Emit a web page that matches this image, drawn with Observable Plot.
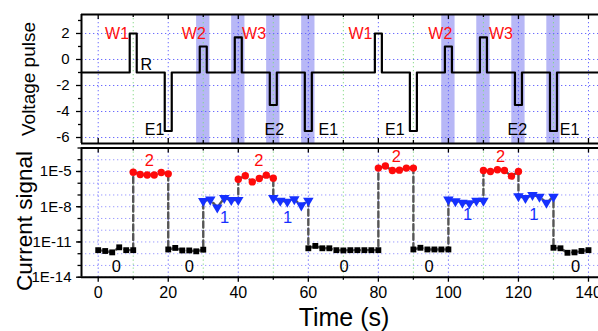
<!DOCTYPE html>
<html>
<head>
<meta charset="utf-8">
<script src="https://cdn.jsdelivr.net/npm/d3@7"></script>
<script src="https://cdn.jsdelivr.net/npm/@observablehq/plot@0.6"></script>
<style>
  html, body { margin: 0; padding: 0; background: #fff; }
  #wrap { position: relative; width: 598px; height: 331px; overflow: hidden; font-family: "Liberation Sans", Arial, sans-serif; }
  #wrap > svg, #wrap > div { position: absolute; left: 0; }
  svg { overflow: visible; }
</style>
</head>
<body>
<div id="wrap"></div>
<script>
// ---------- data ----------
const xDomain = [-4.77, 142.86];
const majorX = [0, 20, 40, 60, 80, 100, 120, 140];
const minorX = [10, 30, 50, 70, 90, 110, 130];

// voltage pulses (baseline -1 V)
const baseline = -1;
const pulseCenters = [10, 20, 30, 40, 50, 60, 80, 90, 100, 110, 120, 130];
const pulseLevels  = [2, -5.5, 1, 1.7, -3.5, -5.5, 2, -5.5, 1, 1.7, -3.5, -5.5];
const pulseHalfWidth = 1;
const bandCenters = [30, 40, 50, 60, 100, 110, 120, 130];
const bandHalfWidth = 1.9;
const vMajor = [-6, -4, -2, 0, 2];
const vMinor = [-5, -3, -1, 1, 3];

const topLabelText = ["W1", "R", "E1", "W2", "W3", "E2", "E1", "W1", "E1", "W2", "W3", "E2", "E1"];
const topLabelT    = [5.4, 13.7, 16.1, 27.3, 44.5, 50.3, 65.7, 74.9, 84.7, 97.7, 115, 119.7, 134.6];
const topLabelV    = [1.94, -0.4, -5.42, 1.98, 1.98, -5.4, -5.4, 1.98, -5.4, 1.98, 1.98, -5.4, -5.4];
const topLabelColor = ["#ff1010", "#000", "#000", "#ff1010", "#ff1010", "#000", "#000", "#ff1010", "#000", "#ff1010", "#ff1010", "#000", "#000"];

// current signal segments (2 s sampling)
const timeStep = 2;
const segStart = [0, 10, 20, 30, 40, 50, 60, 80, 90, 100, 110, 120, 130];
const segState = [0, 2, 0, 1, 2, 1, 0, 2, 0, 1, 2, 1, 0];
const segValues = [
  [2.0e-12, 1.7e-12, 1.3e-12, 3.5e-12, 2.0e-12, 2.0e-12],
  [8.7e-6, 5.5e-6, 5.1e-6, 5.1e-6, 8.1e-6, 6.3e-6],
  [2.3e-12, 3.1e-12, 1.9e-12, 1.9e-12, 1.6e-12, 2.2e-12],
  [3.1e-8, 4.0e-8, 8.7e-9, 5.5e-8, 3.7e-8, 3.7e-8],
  [2.2e-6, 4.3e-6, 1.3e-6, 2.5e-6, 4.9e-6, 2.7e-6],
  [5.5e-8, 3.2e-8, 2.7e-8, 4.3e-8, 1.3e-8, 3.2e-8],
  [2.9e-12, 4.6e-12, 2.9e-12, 2.9e-12, 2.0e-12, 1.9e-12, 2.0e-12, 2.0e-12, 2.0e-12, 2.0e-12, 2.0e-12],
  [1.95e-5, 2.9e-5, 1.2e-5, 1.3e-5, 1.95e-5, 1.95e-5],
  [2.3e-12, 3.2e-12, 2.3e-12, 2.3e-12, 2.3e-12, 2.3e-12],
  [4.0e-8, 2.9e-8, 2.2e-8, 2.0e-8, 3.2e-8, 3.2e-8],
  [1.2e-5, 1.0e-5, 1.4e-5, 1.2e-5, 4.0e-6, 1.0e-5],
  [7.8e-8, 5.5e-8, 1.0e-7, 7.2e-8, 2.2e-8, 7.2e-8],
  [3.2e-12, 2.9e-12, 1.2e-12, 1.3e-12, 1.7e-12, 2.0e-12]
];
const iMajor = [1e-14, 1e-11, 1e-8, 1e-5];
const iDecades = [1e-14, 1e-13, 1e-12, 1e-11, 1e-10, 1e-9, 1e-8, 1e-7, 1e-6, 1e-5, 1e-4, 1e-3];
const iDomain = [1e-14, 1e-3];

const stateLabelState = [2, 2, 2, 2, 1, 1, 1, 1, 0, 0, 0, 0, 0];
const stateLabelT = [14.6, 45.9, 85.1, 114.9, 36.1, 54.1, 105.5, 124.4, 5.2, 26.0, 70.2, 94.5, 136.3];
const stateLabelV = [8.7e-5, 8.7e-5, 1.66e-4, 1.66e-4, 1.17e-9, 1.17e-9, 2.2e-9, 2.2e-9, 7.1e-14, 7.1e-14, 7.9e-14, 7.9e-14, 7.9e-14];
const stateColor = ["#000000", "#1530ff", "#ff0a0a"];

// ---------- derived ----------
const wave = [[xDomain[0], baseline]];
pulseCenters.forEach((c, i) => {
  wave.push([c - pulseHalfWidth, baseline], [c - pulseHalfWidth, pulseLevels[i]],
            [c + pulseHalfWidth, pulseLevels[i]], [c + pulseHalfWidth, baseline]);
});
wave.push([xDomain[1], baseline]);

const points = segStart.flatMap((t0, k) =>
  segValues[k].map((v, i) => ({t: t0 + i * timeStep, v, s: segState[k]})));

const blueGrid = {stroke: "#5a5aff", strokeOpacity: 0.9, strokeDasharray: "1.3,2.7", strokeWidth: 1};
const greenGrid = {stroke: "#7fd87f", strokeOpacity: 0.9, strokeDasharray: "1.3,2.7", strokeWidth: 1};
const font = "'Liberation Sans', Arial, sans-serif";

// ---------- top panel ----------
const vTop = 3.46, vBot = -6.46, vPx = 13;
const topPlot = Plot.plot({
  width: 598, height: 145,
  marginLeft: 81, marginRight: 0, marginTop: 14, marginBottom: 2,
  x: {domain: xDomain, axis: null},
  y: {domain: [vBot, vTop], axis: null},
  style: {fontFamily: font, fontSize: "15px", background: "transparent", overflow: "visible", color: "#000"},
  marks: [
    Plot.rect(bandCenters, {x1: d => d - bandHalfWidth, x2: d => d + bandHalfWidth, fill: "#b7b7f6"}),
    Plot.gridX(majorX, blueGrid),
    Plot.gridX(minorX, greenGrid),
    Plot.gridY(vMajor, blueGrid),
    Plot.line(wave, {x: d => d[0], y: d => d[1], stroke: "#000", strokeWidth: 2.2}),
    Plot.text(topLabelText, {x: (d, i) => topLabelT[i], y: (d, i) => topLabelV[i], text: d => d,
      fill: (d, i) => topLabelColor[i], fontSize: 16}),
    Plot.axisY(vMajor, {anchor: "left", tickSize: 5, tickPadding: 7, tickFormat: d => String(d), fontSize: 15, label: null, strokeWidth: 1.3}),
    Plot.axisY(vMinor, {anchor: "left", tickSize: 3, tickFormat: () => "", label: null, strokeWidth: 1.3}),
    Plot.ruleX(majorX, {y1: vTop, y2: vTop - 5 / vPx, strokeWidth: 1.3}),
    Plot.ruleX(minorX, {y1: vTop, y2: vTop - 3 / vPx, strokeWidth: 1.3}),
    Plot.ruleX(majorX, {y1: vBot, y2: vBot + 5 / vPx, strokeWidth: 1.3}),
    Plot.ruleX(minorX, {y1: vBot, y2: vBot + 3 / vPx, strokeWidth: 1.3}),
    Plot.ruleY([vTop, vBot], {strokeWidth: 2}),
    Plot.ruleX([xDomain[0]], {strokeWidth: 2})
  ]
});
topPlot.style.top = "0px";

// ---------- bottom panel ----------
const decPx = 11.74;
const botPlot = Plot.plot({
  width: 598, height: 186,
  marginLeft: 81, marginRight: 0, marginTop: 2.5, marginBottom: 54.3,
  x: {domain: xDomain},
  y: {type: "log", domain: iDomain},
  style: {fontFamily: font, fontSize: "15px", background: "transparent", overflow: "visible", color: "#000"},
  marks: [
    Plot.gridX(majorX, blueGrid),
    Plot.gridX(minorX, greenGrid),
    Plot.gridY(iDecades, {...blueGrid, strokeOpacity: 0.6}),
    Plot.line(points, {x: "t", y: "v", stroke: "#555", strokeWidth: 2.4, strokeDasharray: "6,3.5"}),
    Plot.dot(points.filter(d => d.s === 0), {x: "t", y: "v", symbol: "square", r: 3.3, fill: stateColor[0]}),
    Plot.dot(points.filter(d => d.s === 2), {x: "t", y: "v", symbol: "circle", r: 3.7, fill: stateColor[2]}),
    Plot.dot(points.filter(d => d.s === 1), {x: "t", y: "v", symbol: "triangle", r: 3.9, rotate: 180, fill: stateColor[1]}),
    Plot.text(stateLabelState, {x: (d, i) => stateLabelT[i], y: (d, i) => stateLabelV[i], text: d => String(d),
      fill: d => stateColor[d], fontSize: 16.5}),
    Plot.axisY(iMajor, {anchor: "left", tickSize: 5, tickPadding: 5, fontSize: 15, label: null, strokeWidth: 1.3,
      tickFormat: d => "1E" + Math.round(Math.log10(d))}),
    Plot.axisY(iDecades, {anchor: "left", tickSize: 3.5, tickFormat: () => "", label: null, strokeWidth: 1.3}),
    Plot.axisX(majorX, {anchor: "bottom", tickSize: 5, tickPadding: 4, fontSize: 16, label: null, strokeWidth: 1.3, tickFormat: d => String(d)}),
    Plot.axisX(minorX, {anchor: "bottom", tickSize: 3, tickFormat: () => "", label: null, strokeWidth: 1.3}),
    Plot.ruleX(majorX, {y1: iDomain[1], y2: iDomain[1] / Math.pow(10, 5 / decPx), strokeWidth: 1.3}),
    Plot.ruleX(minorX, {y1: iDomain[1], y2: iDomain[1] / Math.pow(10, 3 / decPx), strokeWidth: 1.3}),
    Plot.ruleY(iDomain, {strokeWidth: 2}),
    Plot.ruleX([xDomain[0]], {strokeWidth: 2})
  ]
});
botPlot.style.top = "145px";

const wrap = document.getElementById("wrap");
wrap.appendChild(topPlot);
wrap.appendChild(botPlot);

// axis titles
const ns = "http://www.w3.org/2000/svg";
const ov = document.createElementNS(ns, "svg");
ov.setAttribute("width", 598); ov.setAttribute("height", 331);
ov.style.position = "absolute"; ov.style.left = "0"; ov.style.top = "0"; ov.style.pointerEvents = "none";
function addText(str, x, y, size, rot) {
  const t = document.createElementNS(ns, "text");
  t.textContent = str;
  t.setAttribute("transform", `translate(${x},${y}) rotate(${rot})`);
  t.setAttribute("text-anchor", "middle");
  t.setAttribute("font-family", "Liberation Sans, Arial, sans-serif");
  t.setAttribute("font-size", size);
  t.setAttribute("fill", "#000");
  ov.appendChild(t);
}
addText("Voltage pulse", 35, 79, 19, -90);
addText("Current signal", 31.5, 221, 22.5, -90);
addText("Time (s)", 344, 326, 25, 0);
wrap.appendChild(ov);
</script>
</body>
</html>
